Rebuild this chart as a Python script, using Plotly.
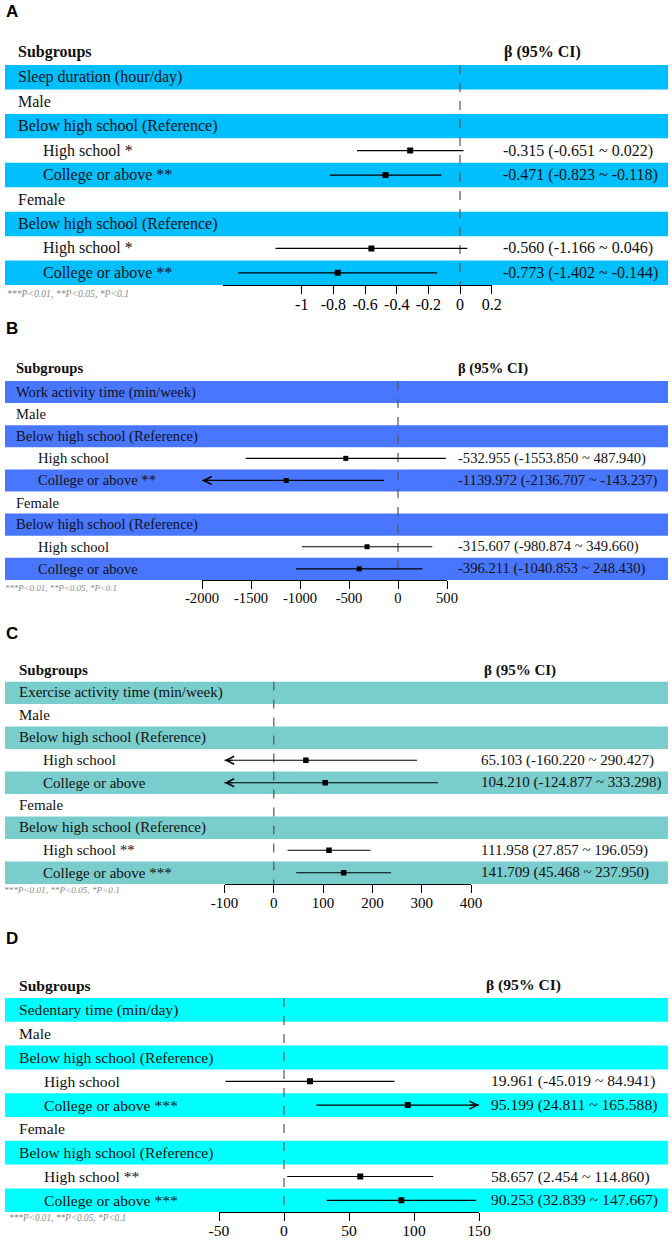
import plotly.graph_objects as go

W, H = 672, 1240

# ---------------- data ----------------
panel_letters = ["A", "B", "C", "D"]
outcomes = ["Sleep duration (hour/day)", "Work activity time (min/week)",
            "Exercise activity time (min/week)", "Sedentary time (min/day)"]
band_colors = ["#00BFFF", "#4876FF", "#79CDCD", "#00FFFF"]

subgroup_rows = ["Male", "Below high school (Reference)", "High school", "College or above",
                 "Female", "Below high school (Reference)", "High school", "College or above"]

A_stars = ["*", "**", "*", "**"]
A_beta = [-0.315, -0.471, -0.560, -0.773]
A_lo = [-0.651, -0.823, -1.166, -1.402]
A_hi = [0.022, -0.118, 0.046, -0.144]
A_ticks = [-1, -0.8, -0.6, -0.4, -0.2, 0, 0.2]
A_ticktext = ["-1", "-0.8", "-0.6", "-0.4", "-0.2", "0", "0.2"]
A_range = [-1.5, 0.2]

B_stars = ["", "**", "", ""]
B_beta = [-532.955, -1139.972, -315.607, -396.211]
B_lo = [-1553.850, -2136.707, -980.874, -1040.853]
B_hi = [487.940, -143.237, 349.660, 248.430]
B_ticks = [-2000, -1500, -1000, -500, 0, 500]
B_ticktext = ["-2000", "-1500", "-1000", "-500", "0", "500"]
B_range = [-2000, 500]

C_stars = ["", "", "**", "***"]
C_beta = [65.103, 104.210, 111.958, 141.709]
C_lo = [-160.220, -124.877, 27.857, 45.468]
C_hi = [290.427, 333.298, 196.059, 237.950]
C_ticks = [-100, 0, 100, 200, 300, 400]
C_ticktext = ["-100", "0", "100", "200", "300", "400"]
C_range = [-100, 400]

D_stars = ["", "***", "**", "***"]
D_beta = [19.961, 95.199, 58.657, 90.253]
D_lo = [-45.019, 24.811, 2.454, 32.839]
D_hi = [84.941, 165.588, 114.860, 147.667]
D_ticks = [-50, 0, 50, 100, 150]
D_ticktext = ["-50", "0", "50", "100", "150"]
D_range = [-50, 150]

footnote = "***P&lt;0.01, **P&lt;0.05, *P&lt;0.1"

# ---------------- layout (pixel geometry) ----------------
geo = [
    dict(top=65, rowh=24.45, ax0=222.6, ax1=491.7, fs=16, letter_y=12, head_y=52, foot_y=293,
         lab_x=16, ind_x=41, ci_x=501, head_ci_x=502, foot_x=5, foot_fs=9.7, msize=6, tstand=-3),
    dict(top=381, rowh=22.1, ax0=202, ax1=447, fs=14.6, letter_y=328, head_y=368, foot_y=588,
         lab_x=14, ind_x=36, ci_x=456, head_ci_x=456, foot_x=3, foot_fs=8.9, msize=5, tstand=-3),
    dict(top=681.5, rowh=22.5, ax0=224.5, ax1=471, fs=15, letter_y=633, head_y=670, foot_y=890,
         lab_x=17, ind_x=41, ci_x=479, head_ci_x=482, foot_x=2, foot_fs=9.2, msize=5.5, tstand=-3),
    dict(top=998, rowh=23.8, ax0=219, ax1=479, fs=15.6, letter_y=938, head_y=985, foot_y=1218,
         lab_x=17, ind_x=42, ci_x=489, head_ci_x=484, foot_x=7, foot_fs=9.3, msize=6, tstand=-4),
]

panels = [
    (A_stars, A_beta, A_lo, A_hi, A_ticks, A_ticktext, A_range),
    (B_stars, B_beta, B_lo, B_hi, B_ticks, B_ticktext, B_range),
    (C_stars, C_beta, C_lo, C_hi, C_ticks, C_ticktext, C_range),
    (D_stars, D_beta, D_lo, D_hi, D_ticks, D_ticktext, D_range),
]

SERIF = "Liberation Serif"
est_rows = [3, 4, 7, 8]
band_rows = [0, 2, 4, 6, 8]

fig = go.Figure()
shapes, annotations = [], []
layout_axes = {}

def py(p):
    return 1 - p / H

for k, (stars, beta, lo, hi, ticks, ticktext, rng) in enumerate(panels):
    g = geo[k]
    sfx = "" if k == 0 else str(k + 1)
    xa, ya = "x" + sfx, "y" + sfx
    bottom = g["top"] + 9 * g["rowh"]
    layout_axes["xaxis" + sfx] = dict(
        domain=[g["ax0"] / W, g["ax1"] / W], range=rng, anchor=ya,
        tickmode="array", tickvals=ticks, ticktext=ticktext,
        showline=True, linecolor="black", linewidth=1,
        ticks="outside", ticklen=8, tickwidth=1, tickcolor="black",
        ticklabelstandoff=g["tstand"],
        showgrid=False, zeroline=False, fixedrange=True,
        tickfont=dict(family=SERIF, size=g["fs"], color="black"))
    layout_axes["yaxis" + sfx] = dict(
        domain=[py(bottom), py(g["top"])], range=[8.5, -0.5], anchor=xa,
        visible=False, fixedrange=True)

    # bands
    for r in band_rows:
        shapes.append(dict(type="rect", xref="paper", yref=ya, x0=5 / W, x1=668 / W,
                           y0=r - 0.5, y1=r + 0.5, fillcolor=band_colors[k],
                           line=dict(width=0), layer="below"))
    # reference line
    shapes.append(dict(type="line", xref=xa, yref=ya, x0=0, x1=0, y0=-0.5, y1=8.5,
                       line=dict(color="#555555", width=1.2, dash="dash"), layer="below"))

    # CI lines
    xs, ys = [], []
    for r, l, h in zip(est_rows, lo, hi):
        xs += [l, h, None]
        ys += [r, r, None]
    fig.add_trace(go.Scatter(x=xs, y=ys, xaxis=xa, yaxis=ya, mode="lines",
                             line=dict(color="black", width=1.2), hoverinfo="skip",
                             showlegend=False))
    fig.add_trace(go.Scatter(x=beta, y=est_rows, xaxis=xa, yaxis=ya, mode="markers",
                             marker=dict(symbol="square", size=g["msize"], color="black"),
                             showlegend=False))
    # arrows where CI exceeds axis range
    span = rng[1] - rng[0]
    for r, l, h in zip(est_rows, lo, hi):
        if l < rng[0]:
            annotations.append(dict(xref=xa, yref=ya, axref=xa, ayref=ya, x=rng[0], y=r,
                                    ax=rng[0] + 0.04 * span, ay=r, text="", showarrow=True,
                                    arrowhead=5, arrowsize=1.3, arrowwidth=1.2,
                                    arrowcolor="black", standoff=0))
        if h > rng[1]:
            annotations.append(dict(xref=xa, yref=ya, axref=xa, ayref=ya, x=rng[1], y=r,
                                    ax=rng[1] - 0.04 * span, ay=r, text="", showarrow=True,
                                    arrowhead=5, arrowsize=1.3, arrowwidth=1.2,
                                    arrowcolor="black", standoff=0))

    # row labels
    labels = [outcomes[k]] + list(subgroup_rows)
    si = 0
    for r, lab in enumerate(labels):
        indent = r in est_rows
        if indent:
            st = stars[si]
            lab = lab + (" " + st if st else "")
            ci = f"{beta[si]:.3f} ({lo[si]:.3f} ~ {hi[si]:.3f})"
            annotations.append(dict(xref="paper", yref=ya, x=g["ci_x"] / W, y=r, text=ci,
                                    showarrow=False, xanchor="left", yanchor="middle",
                                    font=dict(family=SERIF, size=g["fs"], color="#111111")))
            si += 1
        annotations.append(dict(xref="paper", yref=ya,
                                x=(g["ind_x"] if indent else g["lab_x"]) / W, y=r, text=lab,
                                showarrow=False, xanchor="left", yanchor="middle",
                                font=dict(family=SERIF, size=g["fs"], color="#111111")))

    # headers
    annotations.append(dict(xref="paper", yref="paper", x=g["lab_x"] / W, y=py(g["head_y"]),
                            text="<b>Subgroups</b>", showarrow=False, xanchor="left",
                            yanchor="middle", font=dict(family=SERIF, size=g["fs"], color="#111111")))
    annotations.append(dict(xref="paper", yref="paper", x=g["head_ci_x"] / W, y=py(g["head_y"]),
                            text="<b>β (95% CI)</b>", showarrow=False, xanchor="left",
                            yanchor="middle", font=dict(family=SERIF, size=g["fs"], color="#111111")))
    annotations.append(dict(xref="paper", yref="paper", x=g["foot_x"] / W, y=py(g["foot_y"]),
                            text="<i>" + footnote + "</i>", showarrow=False, xanchor="left",
                            yanchor="middle", font=dict(family=SERIF, size=g["foot_fs"], color="#8a8a8a")))
    annotations.append(dict(xref="paper", yref="paper", x=4 / W, y=py(g["letter_y"]),
                            text="<b>" + panel_letters[k] + "</b>", showarrow=False, xanchor="left",
                            yanchor="middle", font=dict(family="Liberation Sans", size=17, color="black")))

fig.update_layout(
    template="none", width=W, height=H, autosize=False,
    margin=dict(l=0, r=0, t=0, b=0, pad=0),
    paper_bgcolor="white", plot_bgcolor="rgba(0,0,0,0)",
    showlegend=False, shapes=shapes, annotations=annotations, **layout_axes)

fig.write_html("out.html", config={"displayModeBar": False},
               post_script="document.body.style.margin='0';")
